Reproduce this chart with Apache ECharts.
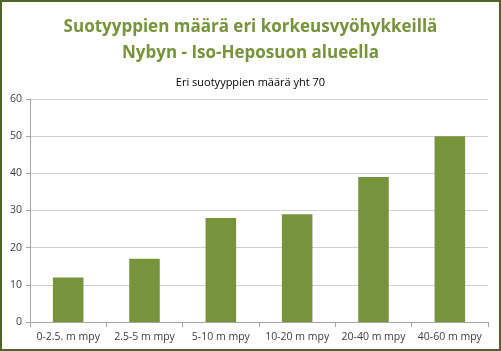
<!DOCTYPE html>
<html><head><meta charset="utf-8">
<script src="https://cdn.jsdelivr.net/npm/echarts@6/dist/echarts.min.js"></script>
<style>html,body{margin:0;padding:0;background:#fff}#c{width:501px;height:351px;box-sizing:border-box;border:2px solid #4F6228}</style>
</head><body><div id="c"></div>
<script>
const categories = ['0-2.5. m mpy','2.5-5 m mpy','5-10 m mpy','10-20 m mpy','20-40 m mpy','40-60 m mpy'];
const values = [12,17,28,29,39,50];
const chart = echarts.init(document.getElementById('c'));
chart.setOption({
  animation:false,
  title:[
    {text:'Suotyyppien määrä eri korkeusvyöhykkeillä\nNybyn - Iso-Heposuon alueella',left:'center',top:7,
     textStyle:{color:'#77933C',fontSize:17,fontWeight:'bold',fontFamily:'Open Sans',lineHeight:26}},
    {text:'Eri suotyyppien määrä yht 70',left:'center',top:70,
     textStyle:{color:'#000',fontSize:11,fontWeight:'normal',fontFamily:'Open Sans'}}
  ],
  grid:{left:28,right:11,top:97,bottom:27},
  xAxis:{type:'category',data:categories,
    axisLine:{lineStyle:{color:'#a6a6a6'}},
    axisTick:{show:true,length:5,lineStyle:{color:'#a6a6a6'}},
    axisLabel:{color:'#404040',fontSize:10.5,fontFamily:'Open Sans',margin:10,interval:0}},
  yAxis:{type:'value',min:0,max:60,interval:10,
    axisLine:{show:true,lineStyle:{color:'#a6a6a6'}},
    axisTick:{show:true,length:4,lineStyle:{color:'#a6a6a6'}},
    splitLine:{lineStyle:{color:'#d0d0d0'}},
    axisLabel:{color:'#404040',fontSize:10.5,fontFamily:'Open Sans',margin:8}},
  series:[{type:'bar',data:values,barWidth:'40%',itemStyle:{color:'#77933C'}}]
});
</script></body></html>
